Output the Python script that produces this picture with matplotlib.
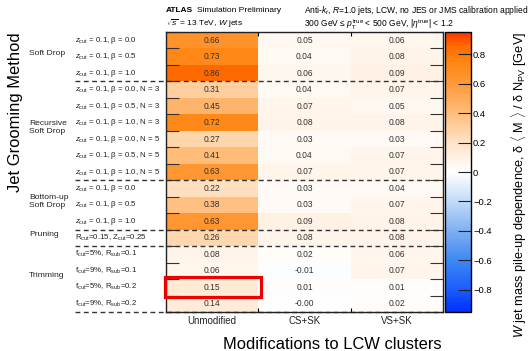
import numpy as np
import matplotlib
matplotlib.use("Agg")
import matplotlib.pyplot as plt
from matplotlib.colors import LinearSegmentedColormap, Normalize
from matplotlib.patches import Rectangle
from matplotlib.transforms import blended_transform_factory

plt.rcParams['font.family'] = ['Liberation Sans', 'DejaVu Sans']
plt.rcParams['mathtext.fontset'] = 'custom'
plt.rcParams['mathtext.rm'] = 'Liberation Sans'
plt.rcParams['mathtext.it'] = 'Liberation Sans:italic'
plt.rcParams['mathtext.bf'] = 'Liberation Sans:bold'

# ---------------- data ----------------
columns = ["Unmodified", "CS+SK", "VS+SK"]
row_labels = [
    r"$z_{\mathrm{cut}}$ = 0.1, β = 0.0",
    r"$z_{\mathrm{cut}}$ = 0.1, β = 0.5",
    r"$z_{\mathrm{cut}}$ = 0.1, β = 1.0",
    r"$z_{\mathrm{cut}}$ = 0.1, β = 0.0, N = 3",
    r"$z_{\mathrm{cut}}$ = 0.1, β = 0.5, N = 3",
    r"$z_{\mathrm{cut}}$ = 0.1, β = 1.0, N = 3",
    r"$z_{\mathrm{cut}}$ = 0.1, β = 0.0, N = 5",
    r"$z_{\mathrm{cut}}$ = 0.1, β = 0.5, N = 5",
    r"$z_{\mathrm{cut}}$ = 0.1, β = 1.0, N = 5",
    r"$z_{\mathrm{cut}}$ = 0.1, β = 0.0",
    r"$z_{\mathrm{cut}}$ = 0.1, β = 0.5",
    r"$z_{\mathrm{cut}}$ = 0.1, β = 1.0",
    r"R$_{\mathrm{cut}}$=0.15, Z$_{\mathrm{cut}}$=0.25",
    r"f$_{\mathrm{cut}}$=5%, R$_{\mathrm{sub}}$=0.1",
    r"f$_{\mathrm{cut}}$=9%, R$_{\mathrm{sub}}$=0.1",
    r"f$_{\mathrm{cut}}$=5%, R$_{\mathrm{sub}}$=0.2",
    r"f$_{\mathrm{cut}}$=9%, R$_{\mathrm{sub}}$=0.2",
]
unmodified = [0.66, 0.73, 0.86, 0.31, 0.45, 0.72, 0.27, 0.41, 0.63,
              0.22, 0.38, 0.63, 0.26, 0.08, 0.06, 0.15, 0.14]
cs_sk = [0.05, 0.04, 0.06, 0.04, 0.07, 0.08, 0.03, 0.04, 0.07,
         0.03, 0.03, 0.09, 0.08, 0.02, -0.01, 0.01, -0.00]
vs_sk = [0.06, 0.08, 0.09, 0.07, 0.05, 0.08, 0.03, 0.07, 0.07,
         0.04, 0.07, 0.08, 0.08, 0.06, 0.07, 0.01, 0.02]
group_names = ["Soft Drop", "Recursive\nSoft Drop", "Bottom-up\nSoft Drop", "Pruning", "Trimming"]
group_sizes = [3, 6, 3, 1, 4]
highlight_row = 15
highlight_col = 0

# ---------------- figure ----------------
W, H = 532, 351
fig = plt.figure(figsize=(W / 100, H / 100), dpi=100)
renderer = fig.canvas.get_renderer()

def fx(px):
    return px / W

def fy(py):
    return 1 - py / H

def fit(t, target, vertical=False):
    for _ in range(3):
        bb = t.get_window_extent(renderer=renderer)
        cur = bb.height if vertical else bb.width
        t.set_fontsize(t.get_fontsize() * target / cur)
    return t

ax_l, ax_r, ax_t, ax_b = 166, 443, 32, 312
ax = fig.add_axes([fx(ax_l), fy(ax_b), fx(ax_r - ax_l), (ax_b - ax_t) / H])
cax = fig.add_axes([fx(445), fy(ax_b), fx(26), (ax_b - ax_t) / H])

vmax = 0.95
anchors = [(-0.95, "#0030ff"), (-0.8, "#1a5cff"), (-0.6, "#3f88f2"), (-0.4, "#7fb0f2"),
           (-0.2, "#c2dbf9"), (0.0, "#ffffff"), (0.2, "#ffe3c6"), (0.4, "#ffbd7c"),
           (0.6, "#ff9a3a"), (0.75, "#ff8612"), (0.86, "#ff6a00"), (0.95, "#ff3300")]
cmap = LinearSegmentedColormap.from_list(
    "atlas", [((v + vmax) / (2 * vmax), c) for v, c in anchors])
norm = Normalize(-vmax, vmax)

data = np.array([unmodified, cs_sk, vs_sk]).T
nrow, ncol = data.shape
mesh = ax.pcolormesh(np.arange(ncol + 1), np.arange(nrow + 1), data, cmap=cmap, norm=norm)
ax.set_xlim(0, ncol)
ax.set_ylim(nrow, 0)

cell_fs = 6.0
t0 = ax.text(0.5, 0.5, "0.66", fontsize=cell_fs)
fit(t0, 16.5)
cell_fs = t0.get_fontsize()
t0.remove()
for i in range(nrow):
    for j in range(ncol):
        ax.text(j + 0.5, i + 0.5, f"{data[i, j]:.2f}", ha="center", va="center",
                fontsize=cell_fs, color="#333333")

# ticks
ax.set_xticks(np.arange(ncol) + 0.5)
ax.set_xticklabels(columns, fontsize=7.0, color="#222222")
ax.tick_params(axis="x", which="major", length=0, pad=3)
ax.set_xticks(np.arange(1, ncol), minor=True)
ax.tick_params(axis="x", which="minor", direction="in", length=3, width=0.8,
               top=True, bottom=True)
ax.set_yticks(np.arange(nrow + 1))
ax.set_yticklabels([])
ax.tick_params(axis="y", which="major", direction="in", length=9.5, width=0.8,
               left=True, right=True, color="#333333")
for s in ax.spines.values():
    s.set_linewidth(1.0)
    s.set_color("#222222")

trans = blended_transform_factory(ax.transAxes, ax.transData)
x_row = (75 - ax_l) / (ax_r - ax_l)
x_grp = (29 - ax_l) / (ax_r - ax_l)
row_texts = []
for i, lab in enumerate(row_labels):
    row_texts.append(ax.text(x_row, i + 0.5, lab, transform=trans, ha="left", va="center",
                             fontsize=6, color="#222222", clip_on=False))
fit(row_texts[0], 62)
for t in row_texts:
    t.set_fontsize(row_texts[0].get_fontsize())

start = 0
grp_texts = []
for name, size in zip(group_names, group_sizes):
    end = start + size
    grp_texts.append(ax.text(x_grp, (start + end) / 2 - 0.2, name, transform=trans,
                             ha="left", va="center", fontsize=6.3, color="#222222",
                             linespacing=1.2, clip_on=False))
    ax.plot([x_row, 1.0], [end, end], transform=trans, color="#333333", lw=1.0,
            linestyle=(0, (3.5, 2.5)), clip_on=False)
    start = end
fit(grp_texts[0], 36)
for t in grp_texts:
    t.set_fontsize(grp_texts[0].get_fontsize())

ax.add_patch(Rectangle((highlight_col - 0.015, highlight_row - 0.15), 1.045, 1.22,
                       fill=False, edgecolor="#ee0000", lw=2.3, clip_on=False, zorder=5))

xl = fig.text(fx(442), fy(349), "Modifications to LCW clusters", ha="right", va="baseline",
              fontsize=11.9)
fit(xl, 218)
yl = fig.text(fx(16), fy(32), "Jet Grooming Method", rotation=90, ha="center", va="top",
              fontsize=12)
fit(yl, 160, vertical=True)

# colorbar
cb = fig.colorbar(mesh, cax=cax, ticks=[0.8, 0.6, 0.4, 0.2, 0, -0.2, -0.4, -0.6, -0.8])
cb.ax.set_yticklabels(["0.8", "0.6", "0.4", "0.2", "0", "\u22120.2", "\u22120.4",
                       "\u22120.6", "\u22120.8"])
cax.tick_params(direction="in", length=9.5, width=0.8, labelsize=6.8, pad=1.5,
                color="#222222")
cb.outline.set_linewidth(1.0)
zl = fig.text(fx(519), fy(32),
              r"$W$ jet mass pile-up dependence, δ $\langle$ M $\rangle$ / δ N$_{\mathrm{PV}}$ [GeV]",
              rotation=90, ha="center", va="top", fontsize=10.0)
fit(zl, 305, vertical=True)

# header
h1 = fig.text(fx(166), fy(11), "ATLAS", fontweight="bold", fontsize=6.0, va="center", ha="left")
bb = h1.get_window_extent(renderer=renderer)
h1b = fig.text((bb.x1 + 4) / W, fy(11), "Simulation Preliminary", fontsize=6.0,
               va="center", ha="left")
h2 = fig.text(fx(166), fy(24), r"$\sqrt{s}$ = 13 TeV, $W$ jets", fontsize=6.0,
              va="center", ha="left")
h3 = fig.text(fx(304), fy(10.5),
              r"Anti-$k_{t}$, $R$=1.0 jets, LCW, no JES or JMS calibration applied",
              fontsize=6.0, va="center", ha="left")
fit(h3, 225)
h4 = fig.text(fx(304), fy(24.5),
              r"300 GeV ≤ $p_{\mathrm{T}}^{\mathrm{true}}$ < 500 GeV, |$\eta^{\mathrm{true}}$| < 1.2",
              fontsize=h3.get_fontsize(), va="center", ha="left")

fig.savefig("out.png", dpi=100)
